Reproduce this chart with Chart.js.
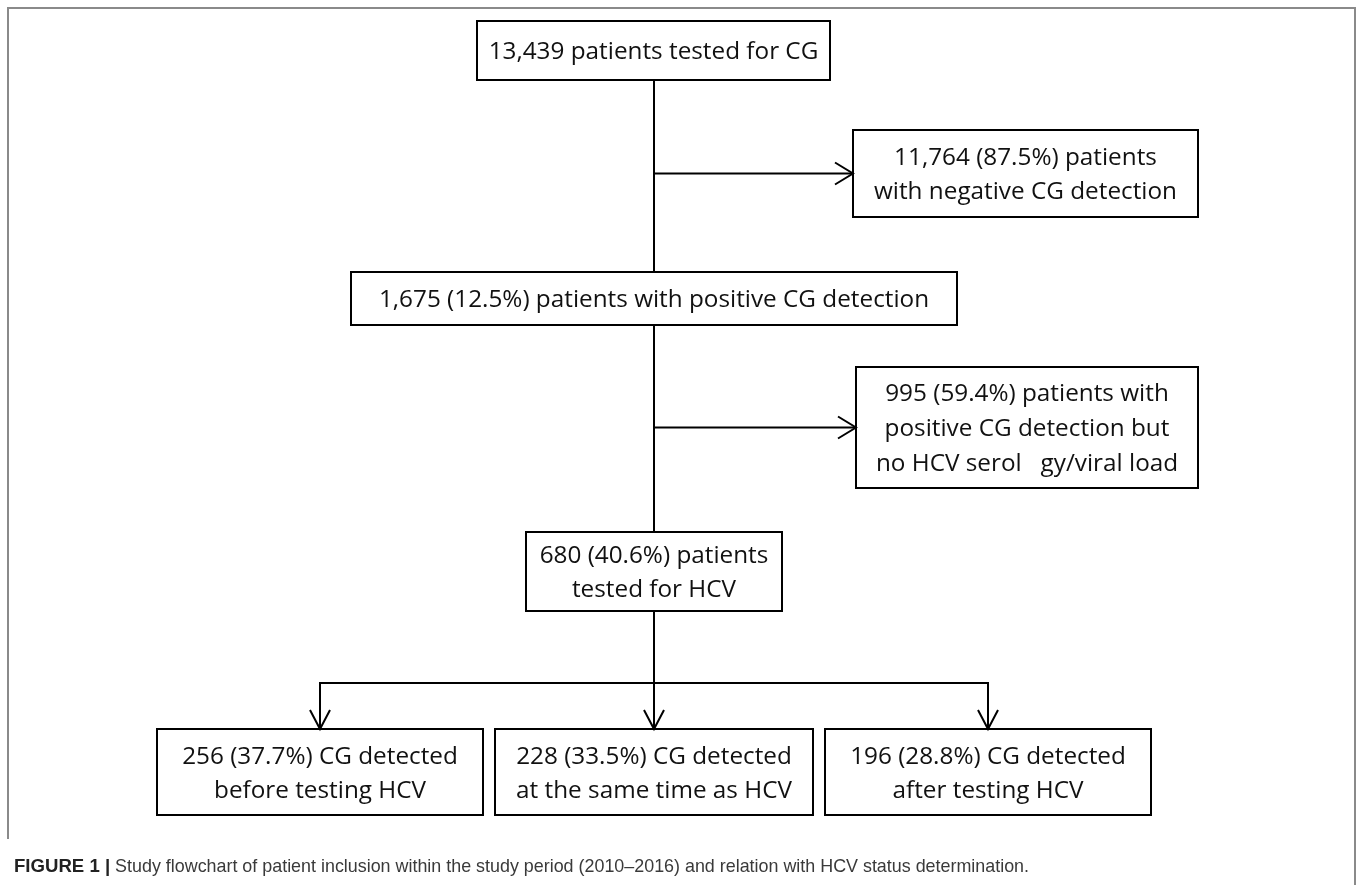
<!DOCTYPE html>
<html>
<head>
<meta charset="utf-8">
<script src="https://cdn.jsdelivr.net/npm/chart.js@4.4.1/dist/chart.umd.min.js"></script>
<style>
  html, body { margin: 0; padding: 0; background: #fff; }
  #wrap { position: relative; width: 1357px; height: 885px; }
  #flow { position: absolute; left: 0; top: 0; }
  #caption {
    position: absolute; left: 14px; top: 855px;
    font-family: "Liberation Sans", Arial, sans-serif; font-size: 17.9px; color: #3a3a3a;
    white-space: nowrap; line-height: 22px;
  }
  #caption b { color: #222; font-size: 18.6px; }
</style>
</head>
<body>
<div id="wrap">
  <canvas id="flow" width="1357" height="885"></canvas>
  <div id="caption"><b>FIGURE 1 |</b> Study flowchart of patient inclusion within the study period (2010–2016) and relation with HCV status determination.</div>
</div>
<script>
// flowchart steps, in reading order
const stepIds = ["tested", "negative", "positive", "noHcv", "hcv", "before", "same", "after"];
const stepText = [
  ["13,439 patients tested for CG"],
  ["11,764 (87.5%) patients", "with negative CG detection"],
  ["1,675 (12.5%) patients with positive CG detection"],
  ["995 (59.4%) patients with", "positive CG detection but", "no HCV serol   gy/viral load"],
  ["680 (40.6%) patients", "tested for HCV"],
  ["256 (37.7%) CG detected", "before testing HCV"],
  ["228 (33.5%) CG detected", "at the same time as HCV"],
  ["196 (28.8%) CG detected", "after testing HCV"]
];
// which step leads to which, and how: main path, side exclusion, or split
const links = [
  ["tested", "positive", "main"], ["tested", "negative", "side"],
  ["positive", "hcv", "main"], ["positive", "noHcv", "side"],
  ["hcv", "before", "split"], ["hcv", "same", "split"], ["hcv", "after", "split"]
];

// layout (page units, y downward)
const layout = {
  tested:   { x0: 477, x1: 830,  y0: 21,  y1: 80 },
  negative: { x0: 853, x1: 1198, y0: 130, y1: 217 },
  positive: { x0: 351, x1: 957,  y0: 272, y1: 325 },
  noHcv:    { x0: 856, x1: 1198, y0: 367, y1: 488 },
  hcv:      { x0: 526, x1: 782,  y0: 532, y1: 611 },
  before:   { x0: 157, x1: 483,  y0: 729, y1: 815 },
  same:     { x0: 495, x1: 813,  y0: 729, y1: 815 },
  after:    { x0: 825, x1: 1151, y0: 729, y1: 815 }
};
const trunkX = 654;
const splitY = 683;

const boxDatasets = stepIds.map(id => {
  const b = layout[id];
  return {
    data: [{x: b.x0, y: b.y0}, {x: b.x1, y: b.y0}, {x: b.x1, y: b.y1}, {x: b.x0, y: b.y1}, {x: b.x0, y: b.y0}],
    showLine: true, pointRadius: 0, borderColor: "#000", borderWidth: 2, clip: false
  };
});

const arrows = [];
const linkDatasets = links.map(([from, to, kind]) => {
  const a = layout[from], b = layout[to];
  let pts;
  if (kind === "split") {
    const cx = (b.x0 + b.x1) / 2;
    pts = [{x: trunkX, y: a.y1}, {x: trunkX, y: splitY}, {x: cx, y: splitY}, {x: cx, y: b.y0}];
    arrows.push({x: cx, y: b.y0, dir: "down"});
  } else if (kind === "side") {
    const y = (b.y0 + b.y1) / 2;
    pts = [{x: trunkX, y: y}, {x: b.x0, y: y}];
    arrows.push({x: b.x0, y: y, dir: "right"});
  } else {
    pts = [{x: trunkX, y: a.y1}, {x: trunkX, y: b.y0}];
  }
  return { data: pts, showLine: true, pointRadius: 0, borderColor: "#000", borderWidth: 2, clip: false };
});

const frame = {
  data: [{x: 8, y: 838}, {x: 8, y: 8}, {x: 1355, y: 8}, {x: 1355, y: 885}],
  showLine: true, pointRadius: 0, borderColor: "#8a8a8a", borderWidth: 2, clip: false
};

const flowPlugin = {
  id: "flowText",
  afterDatasetsDraw(chart) {
    const {ctx, scales: {x, y}} = chart;
    ctx.save();
    ctx.strokeStyle = "#000";
    ctx.lineWidth = 2;
    arrows.forEach(a => {
      const px = x.getPixelForValue(a.x), py = y.getPixelForValue(a.y);
      ctx.beginPath();
      if (a.dir === "right") {
        ctx.moveTo(px - 18, py - 11); ctx.lineTo(px, py); ctx.lineTo(px - 18, py + 11);
      } else {
        ctx.moveTo(px - 10, py - 19); ctx.lineTo(px, py); ctx.lineTo(px + 10, py - 19);
      }
      ctx.stroke();
    });
    ctx.fillStyle = "#111";
    ctx.font = "24.3px 'Open Sans'";
    ctx.textAlign = "center";
    ctx.textBaseline = "middle";
    stepIds.forEach((id, i) => {
      const b = layout[id];
      const lines = stepText[i];
      const lh = lines.length > 2 ? 35 : 34;
      const cx = x.getPixelForValue((b.x0 + b.x1) / 2);
      const cy = y.getPixelForValue((b.y0 + b.y1) / 2);
      lines.forEach((t, j) => {
        ctx.fillText(t, cx, cy + 2 + (j - (lines.length - 1) / 2) * lh);
      });
    });
    ctx.restore();
  }
};

new Chart(document.getElementById("flow"), {
  type: "scatter",
  data: { datasets: [frame, ...boxDatasets, ...linkDatasets] },
  options: {
    responsive: false,
    animation: false,
    devicePixelRatio: 1,
    layout: { padding: 0 },
    plugins: { legend: { display: false }, tooltip: { enabled: false } },
    elements: { line: { tension: 0, borderJoinStyle: "miter", borderCapStyle: "square" } },
    scales: {
      x: { type: "linear", min: 0, max: 1357, display: false },
      y: { type: "linear", min: 0, max: 885, reverse: true, display: false }
    }
  },
  plugins: [flowPlugin]
});
</script>
</body>
</html>
